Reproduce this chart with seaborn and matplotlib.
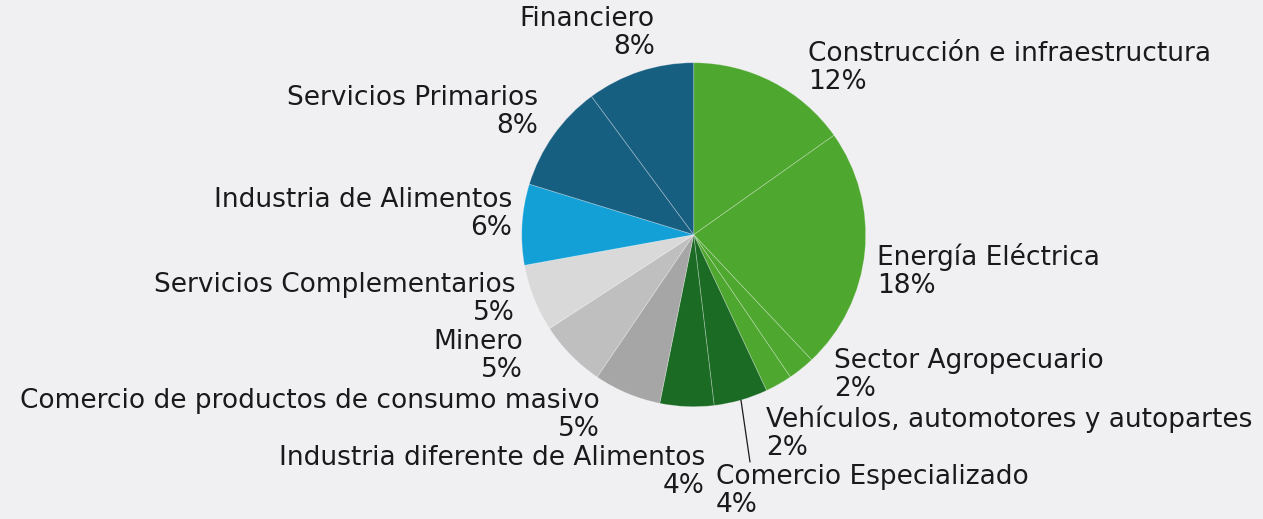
import numpy as np
import matplotlib
matplotlib.use('agg')
import matplotlib.pyplot as plt
import seaborn as sns

# -----------------------------
# datos (porcentajes, sentido horario desde las 12)
# -----------------------------
sectores = ['Construcción e infraestructura', 'Energía Eléctrica', 'Sector Agropecuario',
            'Vehículos, automotores y autopartes', 'Comercio Especializado',
            'Industria diferente de Alimentos', 'Comercio de productos de consumo masivo',
            'Minero', 'Servicios Complementarios', 'Industria de Alimentos',
            'Servicios Primarios', 'Financiero']
porcentajes = [12, 18, 2, 2, 4, 4, 5, 5, 5, 6, 8, 8]

colores = ['#4EA72E', '#4EA72E', '#4EA72E', '#4EA72E', '#1B6B24', '#1B6B24',
           '#A6A6A6', '#BFBFBF', '#D9D9D9', '#12A0D7', '#175F81', '#175F81']

# posicion de las etiquetas (pixeles: x, y centro del bloque, alineacion)
etiquetas_pos = [(808, 68, 'left'), (877, 271, 'left'), (834, 375, 'left'),
                 (766, 433, 'left'), (716, 491, 'left'), (705, 472, 'right'),
                 (600, 415, 'right'), (523, 356, 'right'), (515, 299, 'right'),
                 (512, 214, 'right'), (538, 112, 'right'), (655, 33, 'right')]

W, H = 1263, 519
BG = '#F0EFF2'
cx, cy, r = 693.7, 234.7, 172

sns.set_theme(style='white', rc={'figure.facecolor': BG, 'axes.facecolor': BG})
plt.rcParams['font.family'] = ['DejaVu Sans']

fig = plt.figure(figsize=(W / 100, H / 100), dpi=100)
ax = fig.add_axes([(cx - r) / W, (H - cy - r) / H, 2 * r / W, 2 * r / H])

wedges, _ = ax.pie(porcentajes, colors=colores, startangle=90, counterclock=False,
                   radius=1, wedgeprops=dict(edgecolor=(1, 1, 1, 0.3), linewidth=0.6))
ax.set_xlim(-1, 1)
ax.set_ylim(-1, 1)
ax.axis('off')

for nombre, pct, (px, py, ha) in zip(sectores, porcentajes, etiquetas_pos):
    fig.text(px / W, 1 - py / H, f'{nombre}\n{pct}%', ha=ha, va='center',
             multialignment=ha, fontsize=19, color='#1A1A1A', linespacing=1.1)

# linea guia para Comercio Especializado
w = wedges[4]
ang = np.deg2rad((w.theta1 + w.theta2) / 2)
x0, y0 = np.cos(ang), np.sin(ang)
x1, y1 = (750 - cx) / r, (cy - 462) / r
ax.plot([x0, x1], [y0, y1], color='#1A1A1A', linewidth=0.9, clip_on=False)

plt.savefig('out.png', dpi=100, facecolor=BG)
